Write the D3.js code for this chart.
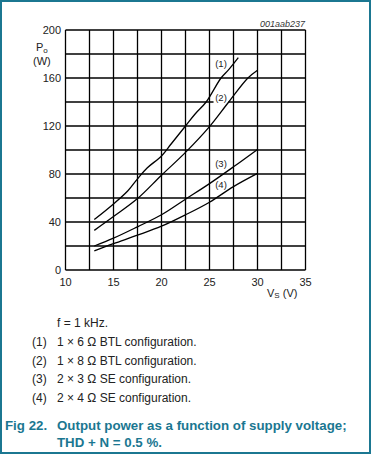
<!DOCTYPE html>
<html lang="en">
<head>
<meta charset="UTF-8">
<title>Output power vs supply voltage</title>
<script src="https://d3js.org/d3.v7.min.js"></script>
<style>
  body { margin: 0; background: #fff; }
  text { font-family: "Liberation Sans", Arial, sans-serif; }
</style>
</head>
<body>
<svg width="372" height="455"></svg>
<script>
// Supply voltage (V) and output power (W)
const vs1 = [13, 15, 16.5, 17.5, 18.5, 20, 21, 22.5, 23.5, 24.65, 26.2, 27, 28];
const po1 = [42, 55, 66, 76, 85, 95, 105, 120, 130, 140, 160, 167, 177];
const vs2 = [13, 15, 17.5, 20, 22.5, 25, 27, 29, 30];
const po2 = [33, 44.5, 59.5, 79, 98, 119.5, 140, 160, 166.5];
const vs3 = [13, 15, 17.5, 20, 22.5, 25, 27.5, 30];
const po3 = [20, 26.5, 36, 46, 59, 72, 86, 100.5];
const vs4 = [13, 15, 17.5, 20, 22.5, 25, 27.5, 30];
const po4 = [16, 22, 29, 36.5, 46, 56.5, 69.5, 80.5];

const curveLabels = ["(1)", "(2)", "(3)", "(4)"];
const labelPos = [[26.2, 172.5], [26.2, 144], [26.2, 89], [26.2, 71]];

const xTicks = [10, 15, 20, 25, 30, 35];
const yTicks = [0, 40, 80, 120, 160, 200];

const notes = [
  ["", "f = 1 kHz."],
  ["(1)", "1 \u00d7 6 \u03a9 BTL configuration."],
  ["(2)", "1 \u00d7 8 \u03a9 BTL configuration."],
  ["(3)", "2 \u00d7 3 \u03a9 SE configuration."],
  ["(4)", "2 \u00d7 4 \u03a9 SE configuration."]
];

const svg = d3.select("svg");
const teal = "#1b7791";

// frame
svg.append("rect")
    .attr("x", 1).attr("y", 1)
    .attr("width", 369).attr("height", 452)
    .attr("fill", "#fff")
    .attr("stroke", teal)
    .attr("stroke-width", 2);

const x = d3.scaleLinear().domain([10, 35]).range([65.5, 305.5]);
const y = d3.scaleLinear().domain([0, 200]).range([270, 30]);

const g = svg.append("g");

// grid
d3.range(10, 35.01, 2.5).forEach(v => {
    g.append("line")
        .attr("x1", x(v)).attr("x2", x(v))
        .attr("y1", y(0)).attr("y2", y(200))
        .attr("stroke", "#000").attr("stroke-width", 1.3);
});
d3.range(0, 200.01, 20).forEach(v => {
    g.append("line")
        .attr("x1", x(10)).attr("x2", x(35))
        .attr("y1", y(v)).attr("y2", y(v))
        .attr("stroke", "#000").attr("stroke-width", 1.3);
});

// tick labels
g.selectAll(".xt").data(xTicks).enter().append("text")
    .attr("x", d => x(d)).attr("y", 286)
    .attr("text-anchor", "middle")
    .attr("font-size", 11).attr("fill", "#222")
    .text(d => d);
g.selectAll(".yt").data(yTicks).enter().append("text")
    .attr("x", 61).attr("y", d => y(d) + 4)
    .attr("text-anchor", "end")
    .attr("font-size", 11).attr("fill", "#222")
    .text(d => d);

// axis titles
const py = g.append("text").attr("x", 36).attr("y", 51)
    .attr("font-size", 11).attr("fill", "#222");
py.append("tspan").text("P");
py.append("tspan").attr("font-size", 8).attr("dy", 2).text("o");
g.append("text").attr("x", 33).attr("y", 65)
    .attr("font-size", 11).attr("fill", "#222").text("(W)");

const vx = g.append("text").attr("x", 267).attr("y", 297)
    .attr("font-size", 11).attr("fill", "#222");
vx.append("tspan").text("V");
vx.append("tspan").attr("font-size", 8).attr("dy", 1).text("S");
vx.append("tspan").attr("dy", -1).text(" (V)");

g.append("text").attr("x", 305).attr("y", 27)
    .attr("text-anchor", "end")
    .attr("font-size", 9).attr("font-style", "italic").attr("fill", "#333")
    .text("001aab237");

// curve labels with white masks over the grid
curveLabels.forEach((t, i) => {
    const cx = x(labelPos[i][0]), cy = y(labelPos[i][1]);
    g.append("rect")
        .attr("x", cx - 7.5).attr("y", cy - 6)
        .attr("width", 15).attr("height", 12)
        .attr("fill", "#fff");
    g.append("text")
        .attr("x", cx).attr("y", cy + 3.5)
        .attr("text-anchor", "middle")
        .attr("font-size", 9.5).attr("fill", "#222")
        .text(t);
});

// curves
const line = d3.line()
    .x(d => x(d[0])).y(d => y(d[1]))
    .curve(d3.curveCatmullRom);
[[vs1, po1], [vs2, po2], [vs3, po3], [vs4, po4]].forEach(([vs, po]) => {
    g.append("path")
        .datum(d3.zip(vs, po))
        .attr("d", line)
        .attr("fill", "none")
        .attr("stroke", "#000")
        .attr("stroke-width", 1.3);
});

// notes
notes.forEach((n, i) => {
    const ty = 327 + i * 18.75;
    if (n[0]) {
        svg.append("text").attr("x", 32).attr("y", ty)
            .attr("font-size", 12).attr("fill", "#222").text(n[0]);
    }
    svg.append("text").attr("x", 57).attr("y", ty)
        .attr("font-size", 12).attr("fill", "#222").text(n[1]);
});

// caption
svg.append("text").attr("x", 5).attr("y", 430)
    .attr("font-size", 13.3).attr("font-weight", "bold").attr("fill", teal)
    .text("Fig 22.");
svg.append("text").attr("x", 57).attr("y", 430)
    .attr("font-size", 13.3).attr("font-weight", "bold").attr("fill", teal)
    .text("Output power as a function of supply voltage;");
svg.append("text").attr("x", 57).attr("y", 447)
    .attr("font-size", 13.3).attr("font-weight", "bold").attr("fill", teal)
    .text("THD + N = 0.5 %.");
</script>
</body>
</html>
